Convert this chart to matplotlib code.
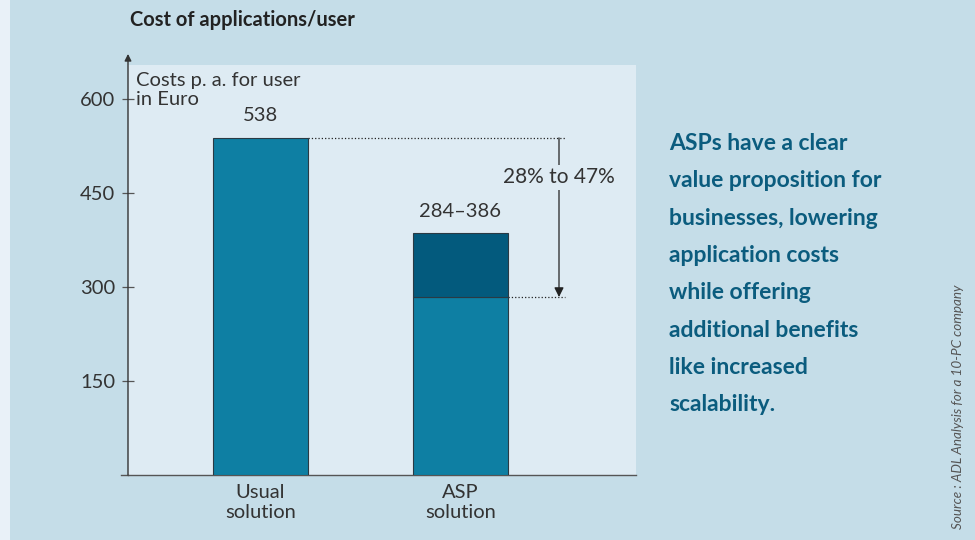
import matplotlib
import matplotlib.pyplot as plt
from matplotlib.patches import Rectangle

matplotlib.rcParams['font.family'] = ['Lato', 'DejaVu Sans']
matplotlib.rcParams['font.size'] = 12

# data
categories  = ["Usual\nsolution", "ASP\nsolution"]
usual_cost  = 538
asp_low     = 284
asp_high    = 386
yticks      = [150, 300, 450, 600]
saving_text = "28% to 47%"

BG      = "#c5dde8"
PANEL   = "#deebf3"
BAR     = "#0e7fa3"
BAR_TOP = "#035a7d"
TXT     = "#333333"
BLUE    = "#0b5c7e"
FS      = 14.5


def main():
    fig = plt.figure(figsize=(9.75, 5.4), dpi=100)
    fig.patch.set_facecolor(BG)

    # whitish strip on the far left
    fig.add_artist(Rectangle((0, 0), 10 / 975, 1, transform=fig.transFigure,
                             facecolor="#e9f1f8", edgecolor="none"))

    ax = fig.add_axes([128 / 975, 65 / 540, 508 / 975, 410 / 540])
    ax.set_facecolor(PANEL)

    """
    Set range
    """
    ax.set_xlim(-0.6625, 1.8775)
    ax.set_ylim(0, 654.3)

    """
    Data part
    """
    w = 0.475
    ax.bar(0, usual_cost, width=w, color=BAR, edgecolor="#2a3a44", linewidth=0.8, zorder=3)
    ax.bar(1, asp_low, width=w, color=BAR, edgecolor="#2a3a44", linewidth=0.8, zorder=3)
    ax.bar(1, asp_high - asp_low, bottom=asp_low, width=w, color=BAR_TOP,
           edgecolor="#2a3a44", linewidth=0.8, zorder=3)

    ax.text(0, 573, str(usual_cost), ha="center", va="center", color=TXT, fontsize=FS)
    ax.text(1, 420, "%d\u2013%d" % (asp_low, asp_high), ha="center", va="center",
            color=TXT, fontsize=FS)

    # dotted guide lines
    xd = 1.5225
    ax.plot([w / 2, xd], [usual_cost, usual_cost], ":", color="#222222", linewidth=0.9, zorder=2)
    ax.plot([1 + w / 2, xd], [asp_low, asp_low], ":", color="#222222", linewidth=0.9, zorder=2)

    xa = 1.4925
    ax.annotate("", xy=(xa, asp_low), xytext=(xa, usual_cost),
                arrowprops=dict(arrowstyle="-|>", color="#222222", lw=0.9,
                                shrinkA=0, shrinkB=0, mutation_scale=14), zorder=4)
    ax.text(xa, 475, saving_text, ha="center", va="center", color=TXT, fontsize=15,
            bbox=dict(facecolor=PANEL, edgecolor="none", pad=2), zorder=5)

    # x labels
    for i, c in enumerate(categories):
        ax.text(i, -15, c, ha="center", va="top", color=TXT, fontsize=FS,
                linespacing=1.2, clip_on=False)

    # axes
    for s in ["top", "right", "left"]:
        ax.spines[s].set_visible(False)
    ax.spines["bottom"].set_color("#555555")
    ax.spines["bottom"].set_linewidth(1.0)
    ax.plot([-0.7, -0.6625], [0, 0], color="#555555", lw=1.0, clip_on=False)
    ax.annotate("", xy=(-0.6625, 672), xytext=(-0.6625, 0),
                arrowprops=dict(arrowstyle="-|>", color="#333333", lw=1.0,
                                shrinkA=0, shrinkB=0, mutation_scale=10),
                annotation_clip=False)

    ax.set_xticks([])
    ax.set_yticks(yticks)
    ax.set_yticklabels([str(v) for v in yticks], color=TXT, fontsize=FS)
    ax.tick_params(axis="y", direction="inout", length=8, width=0.9, color="#555555", pad=5)

    ax.text(-0.625, 643, "Costs p. a. for user\nin Euro", ha="left", va="top",
            color=TXT, fontsize=FS, linespacing=1.12)

    fig.text(130 / 975, 1 - 20 / 540, "Cost of applications/user", ha="left", va="center",
             fontsize=14.5, fontweight="bold", color="#222222")

    msg = ("ASPs have a clear\nvalue proposition for\nbusinesses, lowering\n"
           "application costs\nwhile offering\nadditional benefits\nlike increased\nscalability.")
    fig.text(669 / 975, 1 - 133 / 540, msg, ha="left", va="top", fontsize=16.5,
             fontweight="bold", color=BLUE, linespacing=1.96)

    fig.text(958 / 975, 1 - 407 / 540, "Source : ADL Analysis for a 10-PC company",
             rotation=90, ha="center", va="center", fontsize=9.7, style="italic",
             color="#555555")

    plt.savefig("out.png", dpi=100, facecolor=fig.get_facecolor())
    plt.close()


if __name__ == '__main__':
    main()
